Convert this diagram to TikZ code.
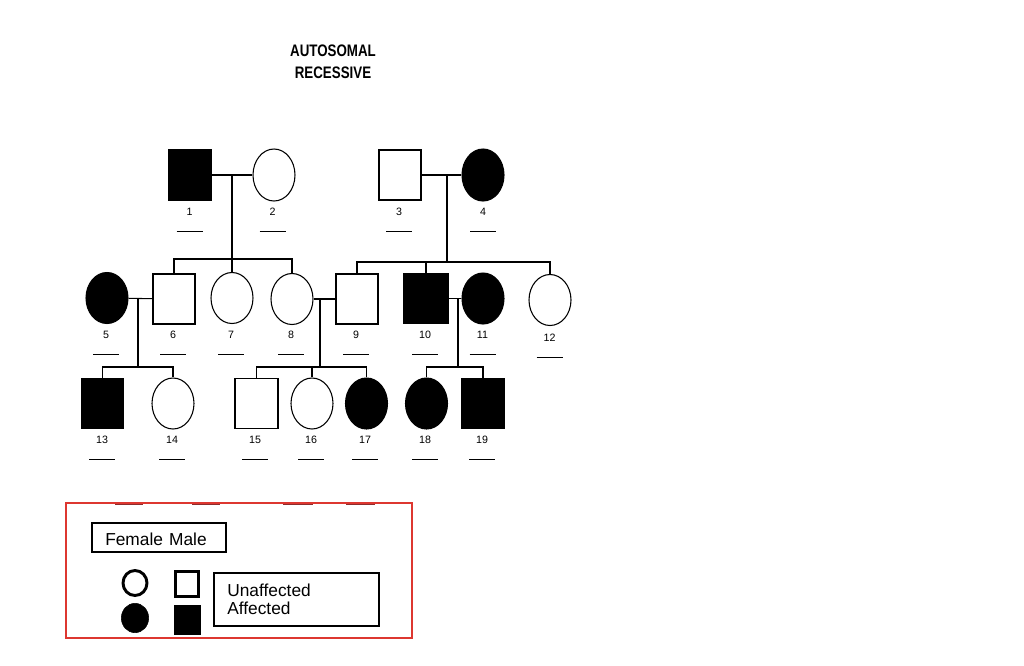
\documentclass[tikz,border=0pt]{standalone}
\usepackage{fontspec}
\setsansfont{Liberation Sans}
\newfontfamily\titlefont[FakeStretch=0.8]{Liberation Sans}
\usetikzlibrary{shapes.geometric,calc}
\definecolor{legred}{RGB}{221,55,48}
\definecolor{markred}{RGB}{140,45,45}
\begin{document}
\begin{tikzpicture}[x=0.75pt,y=-0.75pt,
  line/.style={line width=0.8pt},
  male/.style={draw, rectangle, minimum width=31.5pt, minimum height=37.5pt, inner sep=0pt, line width=0.8pt},
  female/.style={draw, ellipse, minimum width=31.5pt, minimum height=38.25pt, inner sep=0pt, line width=0.8pt},
  aff/.style={fill=black},
  num/.style={font=\sffamily\fontsize{8}{9}\selectfont, inner sep=0pt},
  blank/.style={line width=0.7pt},
  legtext/.style={font=\sffamily\fontsize{13}{13.5}\selectfont, inner sep=0pt}]
\useasboundingbox (0,0) rectangle (1024,665);
\fill[white] (0,0) rectangle (1024,665);

% title
\node[font=\titlefont\bfseries\fontsize{12.5}{15}\selectfont, inner sep=0pt] (t1) at (333,51) {AUTOSOMAL};
\node[font=\titlefont\bfseries\fontsize{12.5}{15}\selectfont, inner sep=0pt] (t2) at (333,72.5) {RECESSIVE};

% generation I
\node[male,aff] (n1) at (190,175) {};
\node[female,minimum height=39pt] (n2) at (274,175) {};
\node[male] (n3) at (400,175) {};
\node[female,aff,minimum height=39pt] (n4) at (483,175) {};

% generation II
\node[female,aff] (n5) at (107,298) {};
\node[male] (n6) at (174,299) {};
\node[female] (n7) at (232,298) {};
\node[female] (n8) at (292,299) {};
\node[male] (n9) at (357,299) {};
\node[male,aff,minimum width=33pt] (n10) at (426,298.5) {};
\node[female,aff] (n11) at (483,298.5) {};
\node[female] (n12) at (550,300) {};

% generation III
\node[male,aff,minimum width=30.75pt] (n13) at (102.5,403.5) {};
\node[female] (n14) at (173,403.5) {};
\node[male,minimum width=32.25pt] (n15) at (256.5,403.5) {};
\node[female] (n16) at (312,403.5) {};
\node[female,aff] (n17) at (366.5,403.5) {};
\node[female,aff] (n18) at (426.5,403.5) {};
\node[male,aff] (n19) at (483,403.5) {};

% marriage and descent coordinates
\coordinate (m1) at (232,175);
\coordinate (s1) at (232,259);
\coordinate (m2) at (447,175);
\coordinate (s2) at (447,262);
\coordinate (m3) at (138,298);
\coordinate (s3) at (138,367);
\coordinate (m4) at (320,299);
\coordinate (s4) at (320,367);
\coordinate (m5) at (458,298.5);
\coordinate (s5) at (458,367);

% connectors
\draw[line] (n1) -- (n2);
\draw[line] (m1) -- (s1);
\draw[line] (n6.north) |- (s1) -| (n8.north);
\draw[line] (n7.north) -- (s1);

\draw[line] (n3) -- (n4);
\draw[line] (m2) -- (s2);
\draw[line] (n9.north) |- (s2) -| (n12.north);
\draw[line] (n10.north) -- (n10.north |- s2);

\draw[line] (n5) -- (n6);
\draw[line] (m3) -- (s3);
\draw[line] (n13.north) |- (s3) -| (n14.north);

\draw[line] (n8) -- (n9);
\draw[line] (m4) -- (s4);
\draw[line] (n15.north) |- (s4) -| (n17.north);
\draw[line] (n16.north) -- (n16.north |- s4);

\draw[line] (n10) -- (n11);
\draw[line] (m5) -- (s5);
\draw[line] (n18.north) |- (s5) -| (n19.north);

% numbers and blanks
\foreach \i/\x/\y in {1/189.5/212, 2/272.5/212, 3/399/212, 4/483/212,
  5/106/335, 6/173/335, 7/231/335, 8/291/335, 9/356/335, 10/425/335, 11/482.5/335, 12/549.5/338,
  13/102/440, 14/172/440, 15/255/440, 16/311/440, 17/365/440, 18/425/440, 19/482/440}{
  \node[num] (l\i) at (\x,\y) {\i};
  \draw[blank] ($(l\i)+(-13,19.5)$) -- ++(26,0);
}

% legend
\foreach \a/\b in {115/143,192/220,283/313,346/375}{
  \draw[markred, line width=1.4pt] (\a,504.3) -- (\b,504.3);
}
\draw[legred, line width=1.5pt] (66,503) rectangle (412,638);
\node[draw, line width=0.8pt, minimum width=100.5pt, minimum height=21.75pt, inner sep=0pt] (fm) at (159,537.5) {};
\node[legtext, anchor=west] (fmt) at (105,539) {Female\hspace{0.35em}Male};

\node[draw, ellipse, line width=2.2pt, minimum width=18pt, minimum height=18.75pt, inner sep=0pt] (lc1) at (135,583) {};
\node[draw, ellipse, fill=black, minimum width=20.5pt, minimum height=22pt, inner sep=0pt] (lc2) at (135,618) {};
\node[draw, rectangle, line width=2.2pt, minimum width=17.5pt, minimum height=19pt, inner sep=0pt] (ls1) at (187,584) {};
\node[draw, rectangle, fill=black, minimum width=19.5pt, minimum height=21.75pt, inner sep=0pt] (ls2) at (187,619.5) {};

\node[draw, line width=0.8pt, minimum width=123.75pt, minimum height=39.75pt, inner sep=0pt] (ua) at (296.5,599.5) {};
\node[legtext, anchor=west] (uat) at (227,590) {Unaffected};
\node[legtext, anchor=west] (aft) at (227,608.5) {Affected};
\end{tikzpicture}
\end{document}
